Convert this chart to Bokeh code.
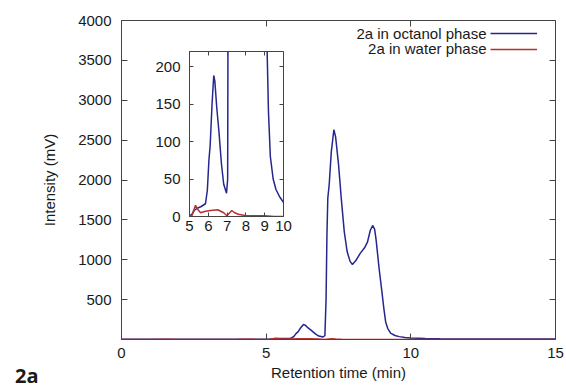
import math
from bokeh.plotting import figure
from bokeh.models import (Range1d, FixedTicker, LinearAxis, Label, Legend, LegendItem, Div)
from bokeh.embed import file_html
from bokeh.resources import INLINE

# ---- data ----
time_oct = [0.0, 1.0, 2.0, 3.0, 4.0, 4.5, 5.0, 5.11, 5.25, 5.41, 5.6, 5.85, 5.95, 6.03, 6.1,
            6.2, 6.29, 6.35, 6.45, 6.56, 6.7, 6.82, 6.97, 7.03, 7.07, 7.1, 7.13, 7.18, 7.25,
            7.34, 7.4, 7.5, 7.6, 7.7, 7.8, 7.9, 7.98, 8.1, 8.25, 8.4, 8.5, 8.6, 8.68, 8.75,
            8.8, 8.9, 9.0, 9.07, 9.13, 9.2, 9.3, 9.45, 9.6, 9.8, 10.0, 10.5, 11.0, 12.0,
            13.0, 14.0, 15.0]
int_oct = [3, 3, 3, 3, 3, 3, 2, 2, 8, 11, 13, 17, 35, 74, 95,
           150, 188, 180, 145, 115, 70, 43, 31, 50, 500, 1300, 1770, 1950, 2350,
           2630, 2540, 2200, 1750, 1350, 1100, 980, 940, 990, 1080, 1150, 1220, 1370, 1430, 1380,
           1250, 900, 600, 380, 220, 140, 80, 50, 36, 26, 19, 12, 9, 7,
           6, 5, 5]

time_wat = [0.0, 1.0, 1.5, 2.0, 3.0, 4.0, 4.3, 4.6, 5.0, 5.11, 5.32, 5.45, 5.59, 5.85, 6.12,
            6.5, 6.82, 6.99, 7.1, 7.25, 7.4, 7.6, 8.0, 8.5, 9.0, 9.5, 10.0, 12.0, 15.0]
int_wat = [0, 1, 3, 1, 1, 2, 4, 2, 0, 0, 15, 9, 5, 7, 8,
           9, 5, 1, 4, 8, 5, 3, 1, 1, 1, 0, 0, 0, 0]

x_ticks_main = [0, 5, 10, 15]
y_ticks_main = [500, 1000, 1500, 2000, 2500, 3000, 3500, 4000]
x_ticks_inset = [5, 6, 7, 8, 9, 10]
y_ticks_inset = [0, 50, 100, 150, 200]

series_labels = ["2a in octanol phase", "2a in water phase"]
x_label = "Retention time (min)"
y_label = "Intensity (mV)"
panel_label = "2a"

BLUE = "#25278f"
RED = "#b8302e"
AX = "#444444"
TXT = "#1a1a1a"
FONT = "Liberation Sans"
FS = "15px"


def style_axis(ax, ticks, tick_len=6):
    ax.ticker = FixedTicker(ticks=ticks)
    ax.major_tick_in = tick_len
    ax.major_tick_out = 0
    ax.minor_tick_line_color = None
    ax.major_tick_line_color = AX
    ax.axis_line_color = AX
    ax.major_label_text_font = FONT
    ax.major_label_text_color = TXT
    ax.major_label_text_font_size = FS


def style_axis_label(ax, standoff):
    ax.axis_label_standoff = standoff
    ax.axis_label_text_font = FONT
    ax.axis_label_text_font_size = FS
    ax.axis_label_text_font_style = "normal"
    ax.axis_label_text_color = TXT


def mirror_axis(ticks, tick_len=6):
    ax = LinearAxis(ticker=FixedTicker(ticks=ticks), major_tick_in=tick_len, major_tick_out=0,
                    minor_tick_line_color=None, major_tick_line_color=AX,
                    axis_line_color=None, major_label_standoff=0,
                    major_label_overrides={t: "" for t in ticks},
                    major_label_text_font_size="1px")
    return ax


# ---- main figure ----
p = figure(width=566, height=386, output_backend="svg", toolbar_location=None,
           x_range=Range1d(0, 15), y_range=Range1d(0, 4000),
           x_axis_type=None, y_axis_type=None,
           min_border_left=121, min_border_right=11, min_border_top=20, min_border_bottom=47)
p.grid.visible = False
p.outline_line_color = AX
p.background_fill_color = "white"
p.border_fill_color = "white"

xb = LinearAxis(axis_label=x_label)
style_axis(xb, x_ticks_main)
xb.major_label_standoff = 8
style_axis_label(xb, 3)
p.add_layout(xb, "below")
yl = LinearAxis(axis_label=y_label)
style_axis(yl, y_ticks_main)
yl.major_label_standoff = 10
style_axis_label(yl, 17)
p.add_layout(yl, "left")
p.add_layout(mirror_axis(x_ticks_main), "above")
p.add_layout(mirror_axis(y_ticks_main), "right")

r_oct = p.line(time_oct, int_oct, line_color=BLUE, line_width=1.5)
r_wat = p.line(time_wat, int_wat, line_color=RED, line_width=1.5)

leg = Legend(items=[LegendItem(label=" ", renderers=[r_oct]),
                    LegendItem(label=" ", renderers=[r_wat])],
             location=(369, 282), glyph_width=47, glyph_height=16, label_height=16,
             label_text_font_size="8px", label_standoff=0, spacing=0, padding=0, margin=0,
             border_line_color=None, background_fill_alpha=0)
p.add_layout(leg)

for lab, yy in zip(series_labels, [306.3, 290.7]):
    p.add_layout(Label(x=365, y=yy, x_units="screen", y_units="screen", text=lab,
                       text_align="right", text_baseline="middle",
                       text_font=FONT, text_font_size=FS, text_color=TXT))

# ---- inset figure ----
inset = figure(width=145, height=194, output_backend="svg", toolbar_location=None,
               x_range=Range1d(5, 10), y_range=Range1d(0, 220),
               x_axis_type=None, y_axis_type=None,
               min_border_left=39, min_border_right=12, min_border_top=5, min_border_bottom=24,
               styles={"position": "absolute", "left": "150px", "top": "46px", "z-index": "2"})
inset.grid.visible = False
inset.outline_line_color = AX
inset.background_fill_color = "white"
inset.border_fill_color = "white"

ixb = LinearAxis()
style_axis(ixb, x_ticks_inset, tick_len=4)
ixb.major_label_standoff = 4
inset.add_layout(ixb, "below")
iyl = LinearAxis()
style_axis(iyl, y_ticks_inset, tick_len=4)
iyl.major_label_standoff = 9
inset.add_layout(iyl, "left")
inset.add_layout(mirror_axis(x_ticks_inset, 4), "above")
inset.add_layout(mirror_axis(y_ticks_inset, 4), "right")

inset.line(time_oct, int_oct, line_color=BLUE, line_width=1.5)
inset.line(time_wat, int_wat, line_color=RED, line_width=1.5)

# ---- panel label ----
tag = Div(text=f"<span style=\"font-family:'Open Sans';font-weight:bold;font-size:20px;"
               f"line-height:28px;color:{TXT};\">{panel_label}</span>",
          width=40, height=28,
          styles={"position": "absolute", "left": "10px", "top": "357px", "z-index": "3"})

open("out.html", "w").write(file_html([p, inset, tag], INLINE))
